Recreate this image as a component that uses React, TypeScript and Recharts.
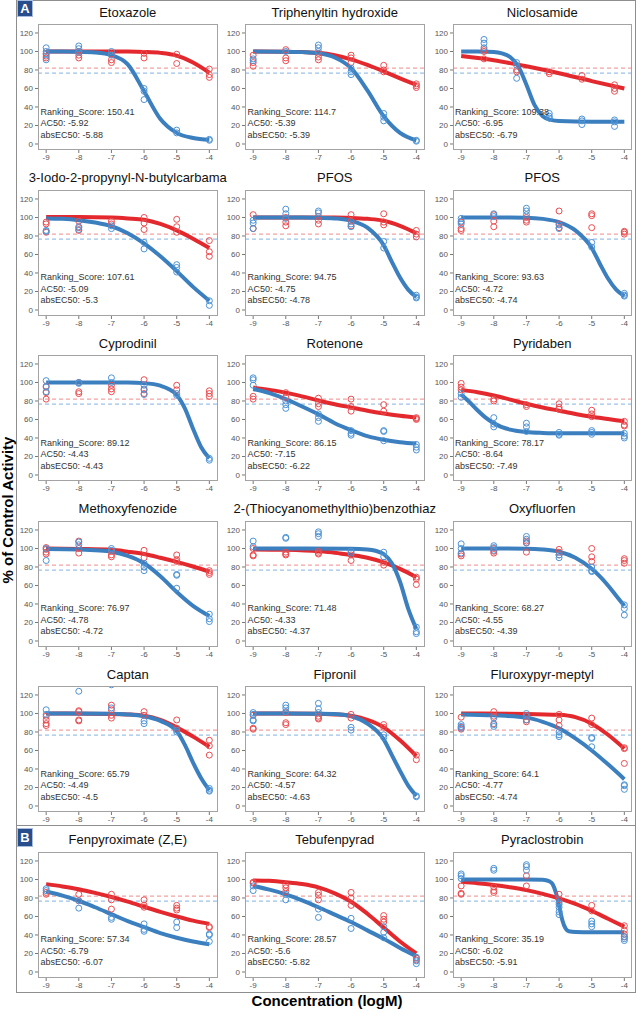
import React from "react";
import { ComposedChart, Line, Scatter, XAxis, YAxis, ReferenceLine } from "recharts";

type Fit = [number, number][];
type Pts = number[][]; // [x, ...replicate values]

const xTicks = [-9, -8, -7, -6, -5, -4];
const yTicks = [0, 20, 40, 60, 80, 100, 120];
const redThreshold = 82;
const blueThreshold = 76.5;

const titles = [
  "Etoxazole", "Triphenyltin hydroxide", "Niclosamide",
  "3-Iodo-2-propynyl-N-butylcarbama", "PFOS", "PFOS",
  "Cyprodinil", "Rotenone", "Pyridaben",
  "Methoxyfenozide", "2-(Thiocyanomethylthio)benzothiaz", "Oxyfluorfen",
  "Captan", "Fipronil", "Fluroxypyr-meptyl",
  "Fenpyroximate (Z,E)", "Tebufenpyrad", "Pyraclostrobin",
];
const rankingScores = ["150.41", "114.7", "109.38", "107.61", "94.75", "93.63", "89.12", "86.15", "78.17", "76.97", "71.48", "68.27", "65.79", "64.32", "64.1", "57.34", "28.57", "35.19"];
const ac50Values = ["-5.92", "-5.39", "-6.95", "-5.09", "-4.75", "-4.72", "-4.43", "-7.15", "-8.64", "-4.78", "-4.33", "-4.55", "-4.49", "-4.57", "-4.77", "-6.79", "-5.6", "-6.02"];
const absEC50Values = ["-5.88", "-5.39", "-6.79", "-5.3", "-4.78", "-4.74", "-4.43", "-6.22", "-7.49", "-4.72", "-4.37", "-4.39", "-4.5", "-4.63", "-4.74", "-6.07", "-5.82", "-5.91"];

// 1 Etoxazole
const etoxazoleBlueFit: Fit = [[-9, 100], [-8.5, 100], [-8, 99.8], [-7.5, 99], [-7, 96], [-6.5, 86], [-6, 57], [-5.5, 27], [-5, 12], [-4.5, 6.5], [-4, 4.5]];
const etoxazoleRedFit: Fit = [[-9, 100], [-8, 100], [-7, 100], [-6.5, 99.9], [-6, 99.5], [-5.5, 98.5], [-5, 95.5], [-4.5, 88], [-4, 77]];
const etoxazoleBluePts: Pts = [[-9, 104, 100, 97, 91], [-8, 106, 103, 99], [-7, 100, 96], [-6, 60, 57, 48], [-5, 15, 12], [-4, 5, 4]];
const etoxazoleRedPts: Pts = [[-9, 98, 95, 93], [-8, 100, 96, 93], [-7, 97, 91, 88], [-6, 98, 93], [-5, 97, 87], [-4, 81, 75, 72]];
// 2 Triphenyltin hydroxide
const triphenyltinBlueFit: Fit = [[-9, 100], [-8, 99.8], [-7.5, 99.3], [-7, 98], [-6.5, 93.5], [-6, 82], [-5.5, 58], [-5, 30], [-4.5, 12], [-4, 4]];
const triphenyltinRedFit: Fit = [[-9, 100], [-8, 99.8], [-7.5, 99.3], [-7, 98.5], [-6.5, 96], [-6, 91.5], [-5.5, 85.5], [-5, 78.5], [-4.5, 71], [-4, 64]];
const triphenyltinBluePts: Pts = [[-9, 92, 90], [-8, 100], [-7, 107, 104, 100], [-6, 82, 78, 75], [-5, 33, 29, 25], [-4, 4, 3]];
const triphenyltinRedPts: Pts = [[-9, 96, 88, 84], [-8, 102, 93, 90], [-7, 98, 94, 91], [-6, 96, 93, 88], [-5, 85, 80, 78], [-4, 65, 63, 61]];
// 3 Niclosamide
const niclosamideBlueFit: Fit = [[-9, 100], [-8.5, 99.9], [-8, 99.5], [-7.75, 98], [-7.5, 94], [-7.25, 84], [-7, 64], [-6.75, 42], [-6.5, 30], [-6.25, 26], [-6, 24.8], [-5, 24], [-4, 24]];
const niclosamideRedFit: Fit = [[-9, 95], [-8, 90.5], [-7, 84], [-6, 76.5], [-5, 68], [-4, 60]];
const niclosamideBluePts: Pts = [[-8.3, 113, 109, 104], [-7.3, 88, 85, 71], [-6.3, 33, 30, 28], [-5.3, 27, 25, 21], [-4.3, 26, 24, 19]];
const niclosamideRedPts: Pts = [[-8.3, 102, 100, 92], [-7.3, 80, 78], [-6.3, 78, 76], [-5.3, 74, 70], [-4.3, 64, 60, 57]];
// 4 3-Iodo-2-propynyl-N-butylcarbamate
const iodoBlueFit: Fit = [[-9, 99], [-8.5, 98.5], [-8, 97], [-7.5, 94.5], [-7, 90.5], [-6.5, 83], [-6, 72], [-5.5, 58], [-5, 42], [-4.5, 25], [-4, 10]];
const iodoRedFit: Fit = [[-9, 100.5], [-8, 100.5], [-7, 100], [-6.5, 99], [-6, 97.5], [-5.5, 93], [-5, 86], [-4.5, 77], [-4, 67]];
const iodoBluePts: Pts = [[-9, 86, 85], [-8, 90, 87], [-7, 91, 88], [-6, 73, 66], [-5, 49, 46, 41], [-4, 10, 5]];
const iodoRedPts: Pts = [[-9, 95, 93, 84], [-8, 96, 89, 86], [-7, 96, 93], [-6, 100, 94, 87], [-5, 98, 90, 84], [-4, 75, 63, 58]];
// 5 PFOS
const pfosABlueFit: Fit = [[-9, 100], [-7.5, 100], [-7, 99.8], [-6.5, 99], [-6, 96.5], [-5.5, 89], [-5, 70], [-4.75, 52], [-4.5, 35], [-4.25, 22], [-4, 14]];
const pfosARedFit: Fit = [[-9, 100], [-6.5, 100], [-6, 99.5], [-5.5, 98.5], [-5, 96.5], [-4.5, 91], [-4, 83]];
const pfosABluePts: Pts = [[-9, 97, 94, 88], [-8, 109, 104, 99], [-7, 107, 105], [-6, 93, 90], [-5, 74, 67], [-4, 16, 14, 13]];
const pfosARedPts: Pts = [[-9, 103, 88], [-8, 100, 95, 91], [-7, 101, 97, 93], [-6, 103, 96, 91], [-5, 104, 95, 92], [-4, 86, 82, 79]];
// 6 PFOS
const pfosBBlueFit: Fit = [[-9, 100], [-7.5, 100], [-7, 99.8], [-6.5, 98.5], [-6, 95], [-5.5, 86], [-5, 67], [-4.75, 50], [-4.5, 34], [-4.25, 22], [-4, 15]];
const pfosBBluePts: Pts = [[-9, 99, 96, 93], [-8, 104, 101], [-7, 110, 107, 103], [-6, 92, 88], [-5, 73, 68], [-4, 18, 16, 15]];
const pfosBRedPts: Pts = [[-9, 95, 88, 86], [-8, 103, 96, 90], [-7, 100, 97, 95], [-6, 107, 93, 89], [-5, 104, 102, 89], [-4, 85, 84, 82]];
// 7 Cyprodinil
const cyprodinilBlueFit: Fit = [[-9, 100], [-6.5, 100], [-6, 99.3], [-5.5, 96.5], [-5.25, 93], [-5, 86.5], [-4.75, 72], [-4.5, 50], [-4.25, 30], [-4, 18]];
const cyprodinilBluePts: Pts = [[-9, 102, 95, 90], [-8, 100, 99], [-7, 105, 100], [-6, 97, 93, 87], [-5, 88, 86], [-4, 18, 16]];
const cyprodinilRedPts: Pts = [[-9, 96, 89, 82], [-8, 100, 90, 88], [-7, 97, 93, 90], [-6, 103, 92, 88], [-5, 97, 92], [-4, 91, 88, 85]];
// 8 Rotenone
const rotenoneBlueFit: Fit = [[-9, 93], [-8.5, 88.5], [-8, 82], [-7.5, 74], [-7, 65.5], [-6.5, 56], [-6, 48.5], [-5.5, 42], [-5, 38], [-4.5, 35.5], [-4, 34]];
const rotenoneRedFit: Fit = [[-9, 94.5], [-8.5, 92], [-8, 89], [-7.5, 85], [-7, 80.5], [-6.5, 76.5], [-6, 73], [-5.5, 69.5], [-5, 66.5], [-4.5, 64], [-4, 62]];
const rotenoneBluePts: Pts = [[-9, 105, 103, 97], [-8, 80, 76, 72], [-7, 66, 62, 58], [-6, 48, 45, 43], [-5, 48, 47, 37], [-4, 33, 30, 27]];
const rotenoneRedPts: Pts = [[-9, 85, 82], [-8, 89, 84], [-7, 83, 77, 74], [-6, 82, 74, 69], [-5, 76, 69], [-4, 62, 61, 60]];
// 9 Pyridaben
const pyridabenBlueFit: Fit = [[-9, 87], [-8.75, 79], [-8.5, 70], [-8.25, 62], [-8, 56], [-7.5, 49], [-7, 46.5], [-6.5, 45.5], [-6, 45], [-5, 45], [-4, 45]];
const pyridabenRedFit: Fit = [[-9, 92], [-8.5, 89.5], [-8, 86], [-7.5, 81.5], [-7, 77], [-6.5, 73], [-6, 69.5], [-5.5, 66], [-5, 63], [-4.5, 60.5], [-4, 58]];
const pyridabenBluePts: Pts = [[-9, 88, 84], [-8, 62, 55, 52], [-7, 56, 52, 47], [-6, 46, 44, 43], [-5, 48, 46, 44], [-4, 45, 42, 40]];
const pyridabenRedPts: Pts = [[-9, 99, 95, 92], [-8, 82, 80], [-7, 76, 74], [-6, 77, 73, 71], [-5, 70, 66, 63], [-4, 58, 54, 53]];
// 10 Methoxyfenozide
const methoxyBlueFit: Fit = [[-9, 99.5], [-8, 99], [-7.5, 98], [-7, 96.5], [-6.5, 92], [-6, 84], [-5.5, 70], [-5, 53], [-4.5, 38], [-4, 27]];
const methoxyRedFit: Fit = [[-9, 100], [-8, 99.5], [-7, 98.5], [-6.5, 96.5], [-6, 94], [-5.5, 90], [-5, 85.5], [-4.5, 80.5], [-4, 75]];
const methoxyBluePts: Pts = [[-9, 100, 87], [-8, 107, 104], [-7, 100, 98], [-6, 84, 80, 76], [-5, 72, 71, 57], [-4, 29, 24, 21]];
const methoxyRedPts: Pts = [[-9, 101, 99, 96, 94], [-8, 108, 100, 95], [-7, 97, 93, 91], [-6, 98, 90], [-5, 93, 88, 86], [-4, 76, 74, 72]];
// 11 2-(Thiocyanomethylthio)benzothiazole
const tcmtbBlueFit: Fit = [[-9, 100], [-6, 99.8], [-5.5, 99], [-5.25, 97.5], [-5, 94], [-4.75, 84], [-4.5, 64], [-4.25, 35], [-4, 13]];
const tcmtbRedFit: Fit = [[-9, 99], [-8, 98.5], [-7, 97], [-6.5, 95.5], [-6, 93], [-5.5, 90], [-5, 85], [-4.5, 78], [-4, 69]];
const tcmtbBluePts: Pts = [[-9, 108, 102], [-8, 112, 111], [-7, 118, 116, 113], [-6, 97, 95], [-5, 96, 91], [-4, 15, 10, 8]];
const tcmtbRedPts: Pts = [[-9, 100, 93, 92], [-8, 96, 94, 93], [-7, 97, 95, 94], [-6, 93, 87], [-5, 85, 82], [-4, 69, 67, 61]];
// 12 Oxyfluorfen
const oxyfluorfenBlueFit: Fit = [[-9, 100], [-7, 99.8], [-6.5, 99], [-6, 96.5], [-5.5, 90], [-5, 78], [-4.5, 60], [-4.25, 49], [-4, 38]];
const oxyfluorfenBluePts: Pts = [[-9, 105, 100, 95], [-8, 103, 101, 98], [-7, 113, 110, 106], [-6, 93, 90], [-5, 80, 76, 75], [-4, 39, 35, 28]];
const oxyfluorfenRedPts: Pts = [[-9, 94, 92], [-8, 100, 97, 95], [-7, 108, 106, 96], [-6, 99, 96, 93], [-5, 100, 91, 86], [-4, 89, 87, 84]];
// 13 Captan
const captanBlueFit: Fit = [[-9, 100], [-7, 99.8], [-6.5, 99], [-6, 97], [-5.5, 92], [-5, 81], [-4.75, 66], [-4.5, 47], [-4.25, 30], [-4, 17]];
const captanRedFit: Fit = [[-9, 100], [-7, 99.5], [-6.5, 99], [-6, 97.5], [-5.5, 93], [-5, 85], [-4.5, 75], [-4, 64]];
const captanBluePts: Pts = [[-9, 104, 99], [-8, 124], [-7, 131, 106], [-6, 92, 89], [-5, 82, 80], [-4, 19, 17, 16]];
const captanRedPts: Pts = [[-9, 97, 93, 89, 87], [-8, 103, 102, 93, 92], [-7, 109, 104, 98, 95], [-6, 102, 98], [-5, 93, 84], [-4, 71, 65, 55]];
// 14 Fipronil
const fipronilBlueFit: Fit = [[-9, 100], [-7, 99.8], [-6.5, 99.5], [-6, 97], [-5.5, 89], [-5, 72], [-4.75, 55], [-4.5, 38], [-4.25, 22], [-4, 11]];
const fipronilRedFit: Fit = [[-9, 100], [-7, 99.8], [-6.5, 99], [-6, 97.5], [-5.5, 93], [-5, 85], [-4.5, 71], [-4, 54]];
const fipronilBluePts: Pts = [[-9, 101, 99, 93, 92], [-8, 109, 106, 102], [-7, 111, 105, 101], [-6, 85, 82], [-5, 77, 74], [-4, 11, 10]];
const fipronilRedPts: Pts = [[-9, 98, 84, 83], [-8, 101, 90, 88], [-7, 97, 95, 94], [-6, 99, 95], [-5, 88, 85], [-4, 55, 50]];
// 15 Fluroxypyr-meptyl
const fluroxypyrBlueFit: Fit = [[-9, 99], [-8, 98], [-7, 95.5], [-6.5, 91], [-6, 84], [-5.5, 73], [-5, 60], [-4.5, 45], [-4, 29]];
const fluroxypyrRedFit: Fit = [[-9, 100], [-7, 99.5], [-6, 98.5], [-5.5, 96], [-5, 89], [-4.5, 77], [-4, 62]];
const fluroxypyrBluePts: Pts = [[-9, 88, 86, 84], [-8, 95, 88, 86], [-7, 100, 97, 93], [-6, 80, 77, 75], [-5, 74, 73, 64], [-4, 23, 22, 18]];
const fluroxypyrRedPts: Pts = [[-9, 96, 85, 83], [-8, 102, 97, 89], [-7, 98, 93, 91], [-6, 99, 93, 87], [-5, 95, 88], [-4, 63, 62, 46]];
// 16 Fenpyroximate (Z,E)
const fenpyroximateBlueFit: Fit = [[-9, 87], [-8.5, 82.5], [-8, 77], [-7.5, 70], [-7, 62.5], [-6.5, 55], [-6, 48.5], [-5.5, 42], [-5, 37], [-4.5, 33], [-4, 30]];
const fenpyroximateRedFit: Fit = [[-9, 95], [-8.5, 92.5], [-8, 89.5], [-7.5, 85.5], [-7, 81], [-6.5, 76], [-6, 70.5], [-5.5, 65], [-5, 60], [-4.5, 55.5], [-4, 52]];
const fenpyroximateBluePts: Pts = [[-9, 90, 88], [-8, 77, 69], [-7, 59, 57], [-6, 52, 46, 44], [-5, 54, 48], [-4, 41, 40, 33]];
const fenpyroximateRedPts: Pts = [[-9, 86, 84], [-8, 84, 77], [-7, 84, 78, 68], [-6, 78, 72, 70], [-5, 72, 69, 67], [-4, 49, 48]];
// 17 Tebufenpyrad
const tebufenpyradBlueFit: Fit = [[-9, 93], [-8.5, 89], [-8, 84], [-7.5, 77.5], [-7, 70], [-6.5, 62], [-6, 54], [-5.5, 45], [-5, 36], [-4.5, 26], [-4, 17]];
const tebufenpyradRedFit: Fit = [[-9, 99], [-8.5, 98.5], [-8, 97], [-7.5, 95], [-7, 91.5], [-6.5, 85], [-6, 76], [-5.5, 63], [-5, 48], [-4.5, 33], [-4, 20]];
const tebufenpyradBluePts: Pts = [[-9, 93, 88], [-8, 84, 78], [-7, 68, 59], [-6, 58, 47], [-5, 49, 43, 37], [-4, 16, 12, 9]];
const tebufenpyradRedPts: Pts = [[-9, 97, 96], [-8, 94, 91, 87], [-7, 86, 83, 78], [-6, 86, 80, 72], [-5, 61, 57, 54], [-4, 15, 13]];
// 18 Pyraclostrobin
const pyraclostrobinBlueFit: Fit = [[-9, 100], [-7, 100], [-6.5, 99.8], [-6.3, 98], [-6.2, 95], [-6.1, 86], [-6, 72], [-5.9, 56], [-5.8, 47], [-5.7, 44], [-5.5, 43.2], [-5, 43], [-4, 43]];
const pyraclostrobinRedFit: Fit = [[-9, 97.5], [-8.5, 96], [-8, 94], [-7.5, 91.5], [-7, 88.5], [-6.5, 84.5], [-6, 79.5], [-5.5, 73.5], [-5, 66], [-4.5, 57.5], [-4, 49]];
const pyraclostrobinBluePts: Pts = [[-9, 106, 104, 101], [-8, 112, 110], [-7, 116, 114, 110], [-6, 75, 73, 70, 65, 62], [-5, 55, 52, 49], [-4, 38, 36, 34]];
const pyraclostrobinRedPts: Pts = [[-9, 93, 85, 84], [-8, 92, 88, 86], [-7, 104, 93], [-6, 84, 78], [-5, 72, 66], [-4, 50, 45, 41, 38]];

const blueFits: Fit[] = [
  etoxazoleBlueFit, triphenyltinBlueFit, niclosamideBlueFit, iodoBlueFit, pfosABlueFit, pfosBBlueFit,
  cyprodinilBlueFit, rotenoneBlueFit, pyridabenBlueFit, methoxyBlueFit, tcmtbBlueFit, oxyfluorfenBlueFit,
  captanBlueFit, fipronilBlueFit, fluroxypyrBlueFit, fenpyroximateBlueFit, tebufenpyradBlueFit, pyraclostrobinBlueFit,
];
const redFits: (Fit | null)[] = [
  etoxazoleRedFit, triphenyltinRedFit, niclosamideRedFit, iodoRedFit, pfosARedFit, null,
  null, rotenoneRedFit, pyridabenRedFit, methoxyRedFit, tcmtbRedFit, null,
  captanRedFit, fipronilRedFit, fluroxypyrRedFit, fenpyroximateRedFit, tebufenpyradRedFit, pyraclostrobinRedFit,
];
const bluePoints: Pts[] = [
  etoxazoleBluePts, triphenyltinBluePts, niclosamideBluePts, iodoBluePts, pfosABluePts, pfosBBluePts,
  cyprodinilBluePts, rotenoneBluePts, pyridabenBluePts, methoxyBluePts, tcmtbBluePts, oxyfluorfenBluePts,
  captanBluePts, fipronilBluePts, fluroxypyrBluePts, fenpyroximateBluePts, tebufenpyradBluePts, pyraclostrobinBluePts,
];
const redPoints: Pts[] = [
  etoxazoleRedPts, triphenyltinRedPts, niclosamideRedPts, iodoRedPts, pfosARedPts, pfosBRedPts,
  cyprodinilRedPts, rotenoneRedPts, pyridabenRedPts, methoxyRedPts, tcmtbRedPts, oxyfluorfenRedPts,
  captanRedPts, fipronilRedPts, fluroxypyrRedPts, fenpyroximateRedPts, tebufenpyradRedPts, pyraclostrobinRedPts,
];

const FONT = '"Liberation Sans", Arial, Helvetica, sans-serif';
const COL_X = [38, 245, 452.5];
const BOX_W = 179.5;
const BOX_H = 126;
const ROW_Y0 = 24;
const ROW_PITCH = 165.5;
const Y_AXIS_W = 26;
const X_AXIS_H = 18;
const X_DOMAIN: [number, number] = [-9.25, -3.75];
const Y_DOMAIN: [number, number] = [-6.5, 129.7];

const RED_LINE = "#e3292d";
const BLUE_LINE = "#3b7fbf";
const RED_PT = "#ea4d50";
const BLUE_PT = "#4c93d6";
const RED_DASH = "#f3a1a1";
const BLUE_DASH = "#9cc2e8";

const toFit = (f: Fit) => f.map(([x, y]) => ({ x, y }));
const toPts = (p: Pts) => p.flatMap(([x, ...ys]) => ys.map((y) => ({ x, y })));

const ring = (color: string) => (props: any) =>
  props.cx == null || props.cy == null ? <g /> : (
    <circle cx={props.cx} cy={props.cy} r={3} fill="none" stroke={color} strokeWidth={1} />
  );

function Panel({ i }: { i: number }) {
  const col = i % 3;
  const row = Math.floor(i / 3);
  const boxLeft = COL_X[col];
  const boxTop = ROW_Y0 + ROW_PITCH * row;
  const redFit = redFits[i];
  const annot = [
    `Ranking_Score: ${rankingScores[i]}`,
    `AC50: ${ac50Values[i]}`,
    `absEC50: ${absEC50Values[i]}`,
  ];
  const annotCenters = [88.3, 99.8, 111.2];
  return (
    <>
      <div
        style={{
          position: "absolute",
          left: boxLeft - 40,
          width: BOX_W + 80,
          top: boxTop - 19.5,
          textAlign: "center",
          fontSize: 13,
          lineHeight: "15px",
          whiteSpace: "nowrap",
          color: "#111",
        }}
      >
        {titles[i]}
      </div>
      <div style={{ position: "absolute", left: boxLeft - Y_AXIS_W, top: boxTop - 2 }}>
        <ComposedChart
          width={Y_AXIS_W + BOX_W + 2}
          height={2 + BOX_H + X_AXIS_H}
          margin={{ top: 2, right: 2, bottom: 0, left: 0 }}
        >
          <XAxis
            dataKey="x"
            type="number"
            domain={X_DOMAIN}
            ticks={xTicks}
            allowDataOverflow
            height={X_AXIS_H}
            axisLine={false}
            tickSize={3}
            tickMargin={1}
            interval={0}
            tick={{ fontSize: 8, fill: "#555", fontFamily: FONT }}
            tickLine={{ stroke: "#777" }}
          />
          <YAxis
            dataKey="y"
            type="number"
            domain={Y_DOMAIN}
            ticks={yTicks}
            allowDataOverflow
            width={Y_AXIS_W}
            axisLine={false}
            tickSize={3}
            tickMargin={2}
            interval={0}
            tick={{ fontSize: 8, fill: "#555", fontFamily: FONT }}
            tickLine={{ stroke: "#777" }}
          />
          <ReferenceLine y={redThreshold} stroke={RED_DASH} strokeDasharray="4 3" strokeWidth={1.2} />
          <ReferenceLine y={blueThreshold} stroke={BLUE_DASH} strokeDasharray="4 3" strokeWidth={1.2} />
          {redFit && (
            <Line
              data={toFit(redFit)}
              dataKey="y"
              type="monotone"
              stroke={RED_LINE}
              strokeWidth={4}
              dot={false}
              activeDot={false}
              isAnimationActive={false}
            />
          )}
          <Line
            data={toFit(blueFits[i])}
            dataKey="y"
            type="monotone"
            stroke={BLUE_LINE}
            strokeWidth={4}
            dot={false}
            activeDot={false}
            isAnimationActive={false}
          />
          <Scatter data={toPts(redPoints[i])} dataKey="y" shape={ring(RED_PT)} isAnimationActive={false} />
          <Scatter data={toPts(bluePoints[i])} dataKey="y" shape={ring(BLUE_PT)} isAnimationActive={false} />
        </ComposedChart>
      </div>
      <div
        style={{
          position: "absolute",
          left: boxLeft,
          top: boxTop,
          width: BOX_W,
          height: BOX_H,
          border: "1px solid #a3a3a3",
          boxSizing: "border-box",
          pointerEvents: "none",
        }}
      />
      {annot.map((t, k) => (
        <div
          key={k}
          style={{
            position: "absolute",
            left: boxLeft + 2.5,
            top: boxTop + annotCenters[k] - 5.4,
            fontSize: 9,
            lineHeight: "11px",
            whiteSpace: "nowrap",
            color: "#333",
          }}
        >
          {t}
        </div>
      ))}
    </>
  );
}

export default function App() {
  return (
    <div
      style={{
        position: "absolute",
        left: 0,
        top: 0,
        width: 637,
        height: 1011,
        background: "#fff",
        fontFamily: FONT,
        overflow: "hidden",
      }}
    >
      {/* panel frames */}
      <div style={{ position: "absolute", left: 16, top: 0, width: 620, height: 826, border: "1.5px solid #8e8e8e", boxSizing: "border-box" }} />
      <div style={{ position: "absolute", left: 16, top: 825, width: 620, height: 168, border: "1.5px solid #8e8e8e", boxSizing: "border-box" }} />
      {/* panel letters */}
      <div style={{ position: "absolute", left: 17, top: 0, width: 16, height: 17, background: "#284d8c", border: "1px solid #a8bde0", boxSizing: "border-box", color: "#fff", fontWeight: "bold", fontSize: 13, lineHeight: "15px", textAlign: "center" }}>A</div>
      <div style={{ position: "absolute", left: 17, top: 828, width: 16, height: 19, background: "#284d8c", border: "1px solid #a8bde0", boxSizing: "border-box", color: "#fff", fontWeight: "bold", fontSize: 13, lineHeight: "17px", textAlign: "center" }}>B</div>
      {titles.map((_, i) => (
        <Panel key={i} i={i} />
      ))}
      {/* axis titles */}
      <div
        style={{
          position: "absolute",
          left: 7.5 - 150,
          top: 510 - 10,
          width: 300,
          height: 20,
          lineHeight: "20px",
          textAlign: "center",
          fontWeight: "bold",
          fontSize: 15,
          color: "#000",
          transform: "rotate(-90deg)",
          whiteSpace: "nowrap",
        }}
      >
        % of Control Activity
      </div>
      <div
        style={{
          position: "absolute",
          left: 327 - 150,
          top: 1001 - 10,
          width: 300,
          lineHeight: "20px",
          textAlign: "center",
          fontWeight: "bold",
          fontSize: 15,
          color: "#000",
          whiteSpace: "nowrap",
        }}
      >
        Concentration (logM)
      </div>
    </div>
  );
}
